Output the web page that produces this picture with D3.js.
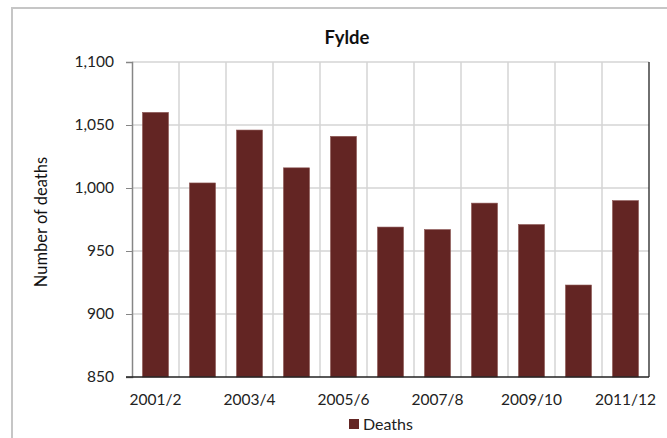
<!DOCTYPE html>
<html><head><meta charset="utf-8">
<script src="https://cdn.jsdelivr.net/npm/d3@7"></script>
<style>body{margin:0;background:#fff;} svg{display:block;} text{font-family:Lato,"Open Sans",sans-serif;}</style>
</head><body>
<svg id="c" width="667" height="438"></svg>
<script>
const categories = ["2001/2","2002/3","2003/4","2004/5","2005/6","2006/7","2007/8","2008/9","2009/10","2010/11","2011/12"];
const deaths = [1060, 1004, 1046, 1016, 1041, 969, 967, 988, 971, 923, 990];
const yTicks = [850, 900, 950, 1000, 1050, 1100];
const title = "Fylde";
const seriesName = "Deaths";
const yLabel = "Number of deaths";

const svg = d3.select("#c");
const L = 132, R = 649, T = 62, B = 377;
const x = d3.scaleBand().domain(categories).range([L, R]).paddingInner(21/47).paddingOuter(10.5/47);
const xb = d3.scaleBand().domain(categories).range([L, R]);
const y = d3.scaleLinear().domain([850, 1100]).range([B, T]);
const fmt = d3.format(",");

// outer chart border
svg.append("path").attr("d", `M12,438 L12,8 L667,8`).attr("fill","none").attr("stroke","#c6c6c6").attr("stroke-width",2);

// horizontal gridlines
svg.append("g").selectAll("line").data(yTicks.slice(1)).join("line")
  .attr("x1", L).attr("x2", R).attr("y1", d=>y(d)).attr("y2", d=>y(d))
  .attr("stroke","#d4d4d4").attr("stroke-width",1.5);
// vertical gridlines at category boundaries
svg.append("g").selectAll("line").data(categories.slice(1)).join("line")
  .attr("x1", d=>xb(d)).attr("x2", d=>xb(d)).attr("y1", T).attr("y2", B)
  .attr("stroke","#d4d4d4").attr("stroke-width",1.5);

// bars
svg.append("g").selectAll("rect").data(deaths).join("rect")
  .attr("x", (d,i)=>x(categories[i])).attr("width", x.bandwidth())
  .attr("y", d=>y(d)).attr("height", d=>B - y(d))
  .attr("fill","#632523").attr("stroke","#8c5553").attr("stroke-width",0.6);

// right border
svg.append("line").attr("x1",R).attr("x2",R).attr("y1",T).attr("y2",B).attr("stroke","#222").attr("stroke-width",1.3);

// y axis
const ya = d3.axisLeft(y).tickValues(yTicks).tickFormat(fmt).tickSize(6).tickPadding(12);
const gy = svg.append("g").attr("transform",`translate(${L},0)`).call(ya);
gy.select(".domain").attr("stroke","#868686").attr("stroke-width",1.5);
gy.selectAll(".tick line").attr("stroke","#868686");
gy.selectAll("text").attr("font-size",15.5).attr("fill","#222");

// x axis
const xa = d3.axisBottom(x).tickValues(categories.filter((d,i)=>i%2===0)).tickSize(0).tickPadding(17);
const gx = svg.append("g").attr("transform",`translate(0,${B})`).call(xa);
gx.select(".domain").remove();
gx.selectAll("text").attr("font-size",15.5).attr("fill","#222");
svg.append("line").attr("x1",L-6).attr("x2",R).attr("y1",B).attr("y2",B).attr("stroke","#222").attr("stroke-width",1.3);

// title
svg.append("text").attr("x",347).attr("y",44).attr("text-anchor","middle")
  .attr("font-size",18.5).attr("font-weight","bold").attr("fill","#111").text(title);

// y label
svg.append("text").attr("transform","translate(47,222) rotate(-90)").attr("text-anchor","middle")
  .attr("font-size",16.5).attr("fill","#111").text(yLabel);

// legend
svg.append("rect").attr("x",349).attr("y",419).attr("width",10).attr("height",10).attr("fill","#632523");
svg.append("text").attr("x",363).attr("y",430).attr("font-size",16).attr("fill","#222").text(seriesName);
</script>
</body></html>
